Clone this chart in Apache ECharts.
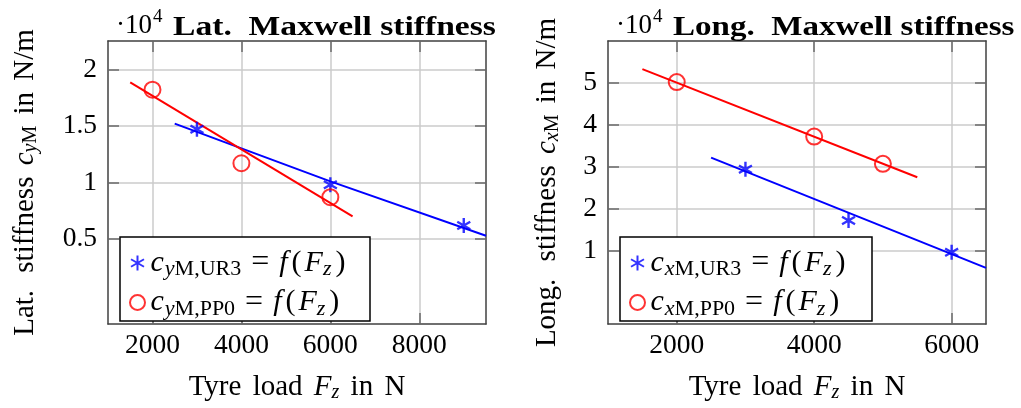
<!DOCTYPE html>
<html><head><meta charset="utf-8">
<script src="https://cdn.jsdelivr.net/npm/echarts@6/dist/echarts.min.js"></script>
<style>html,body{margin:0;padding:0;background:#fff}#c{width:1021px;height:408px}</style>
</head><body><div id="c"></div>
<script>
// ---- Data (stiffness values in units of 10^4 N/m, load in N) ----
const latUR3Load = [3000, 6000, 9000];
const latUR3Stiff = [1.47, 0.98, 0.62];
const latPP0Load = [2000, 4000, 6000];
const latPP0Stiff = [1.82, 1.17, 0.87];
const latUR3FitLoad = [2500, 6000, 9500];
const latUR3FitStiff = [1.52, 1.01, 0.53];
const latPP0FitLoad = [1500, 6500];
const latPP0FitStiff = [1.885, 0.70];

const longUR3Load = [3000, 4500, 6000];
const longUR3Stiff = [2.94, 1.72, 0.96];
const longPP0Load = [2000, 4000, 5000];
const longPP0Stiff = [5.02, 3.72, 3.07];
const longUR3FitLoad = [2500, 6500];
const longUR3FitStiff = [3.22, 0.59];
const longPP0FitLoad = [1500, 5500];
const longPP0FitStiff = [5.33, 2.75];

const latXTicks = [2000, 4000, 6000, 8000];
const latYTicks = [0.5, 1, 1.5, 2];
const longXTicks = [2000, 4000, 6000];
const longYTicks = [1, 2, 3, 4, 5];

// ---- Styling helpers ----
const FONT = 'Liberation Serif';
const FS = 29, SFS = 20, LFS = 30, LSFS = 22;
const base = {fontFamily: FONT, fontWeight: 'normal', color: '#000'};
const st = o => Object.assign({}, base, o);
const rich = {
  n: st({fontSize: FS}),
  g: st({fontSize: FS, padding: [0, 4, 0, 0]}),
  gg: st({fontSize: FS, padding: [0, 10, 0, 0]}),
  i: st({fontSize: FS, fontStyle: 'italic'}),
  si: st({fontSize: SFS, fontStyle: 'italic', padding: [12, 0, 0, 0]}),
  sn: st({fontSize: SFS, padding: [12, 0, 0, 0]}),
  // legend styles
  ln: st({fontSize: LFS}),
  lp: st({fontSize: LFS, padding: [0, 3, 0, 0]}),
  li: st({fontSize: LFS, fontStyle: 'italic'}),
  lf: st({fontSize: LFS, fontStyle: 'italic', padding: [0, 4, 0, 0]}),
  leq: st({fontSize: LFS + 2, padding: [0, 10, 0, 10]}),
  lsi: st({fontSize: LSFS, fontStyle: 'italic', padding: [13, 0, 0, 1]}),
  lsn: st({fontSize: LSFS, padding: [13, 0, 0, 0]}),
  lsz: st({fontSize: LSFS, fontStyle: 'italic', padding: [13, 4, 0, 0]})
};
const zip = (a, b) => a.map((v, k) => [v, b[k]]);
const STAR = 'path://M0,-10L0,10M-8.66,-5L8.66,5M-8.66,5L8.66,-5';

const fz = '{leq|=}{lf|f}{lp|(}{li|F}{lsz|z}{ln|)}';
const names = {
  latUR3: '{li|c}{lsi|y}{lsn|M,UR3}' + fz,
  latPP0: '{li|c}{lsi|y}{lsn|M,PP0}' + fz,
  longUR3: '{li|c}{lsi|x}{lsn|M,UR3}' + fz,
  longPP0: '{li|c}{lsi|x}{lsn|M,PP0}' + fz
};

const BOX = '#404040', TICK = '#6a6a6a', GRID = '#cbcbcb';
const TICKFS = 27.5;

function xAx(grid, min, max, ticks) {
  return [{
    gridIndex: grid, type: 'value', min: min, max: max, position: 'bottom',
    axisLine: {show: true, onZero: false, lineStyle: {color: BOX, width: 1.5}},
    axisTick: {show: true, inside: true, length: 11, customValues: ticks, lineStyle: {color: TICK, width: 1.5}},
    axisLabel: {show: true, customValues: ticks, margin: 8, color: '#000', fontFamily: FONT, fontSize: TICKFS,
      formatter: v => String(v)},
    splitLine: {show: true, lineStyle: {color: GRID, width: 1.5}},
    name: '{n|Tyre}{g| }{n|load}{g| }{i|F}{si|z}{g| }{n|in}{g| }{n|N}', nameLocation: 'middle', nameGap: 47,
    nameTextStyle: {rich: rich}
  }, {
    gridIndex: grid, type: 'value', min: min, max: max, position: 'top',
    axisLine: {show: true, onZero: false, lineStyle: {color: BOX, width: 1.5}},
    axisTick: {show: true, inside: true, length: 11, customValues: ticks, lineStyle: {color: TICK, width: 1.5}},
    axisLabel: {show: false}, splitLine: {show: false}
  }];
}
function yAx(grid, min, max, ticks, nameStr, gap) {
  return [{
    gridIndex: grid, type: 'value', min: min, max: max, position: 'left',
    axisLine: {show: true, onZero: false, lineStyle: {color: BOX, width: 1.5}},
    axisTick: {show: true, inside: true, length: 11, customValues: ticks, lineStyle: {color: TICK, width: 1.5}},
    axisLabel: {show: true, customValues: ticks, margin: 11, color: '#000', fontFamily: FONT, fontSize: TICKFS,
      formatter: v => String(v)},
    splitLine: {show: true, lineStyle: {color: GRID, width: 1.5}},
    name: nameStr, nameLocation: 'middle', nameGap: gap,
    nameTextStyle: {rich: rich}
  }, {
    gridIndex: grid, type: 'value', min: min, max: max, position: 'right',
    axisLine: {show: true, onZero: false, lineStyle: {color: BOX, width: 1.5}},
    axisTick: {show: true, inside: true, length: 11, customValues: ticks, lineStyle: {color: TICK, width: 1.5}},
    axisLabel: {show: false}, splitLine: {show: false}
  }];
}

function scatter(name, x, y, yi, type) {
  const isStar = type === 'star';
  return {
    type: 'scatter', name: name, xAxisIndex: yi, yAxisIndex: yi, z: 5,
    symbol: isStar ? STAR : 'circle', symbolKeepAspect: true,
    symbolSize: isStar ? 15 : 16,
    itemStyle: isStar ? {color: '#0000ff', borderColor: '#0000ff', borderWidth: 2.4}
                      : {color: 'rgba(255,255,255,0)', borderColor: '#ff0000', borderWidth: 2},
    data: zip(x, y)
  };
}
function fit(x, y, yi, color) {
  return {
    type: 'line', xAxisIndex: yi, yAxisIndex: yi, showSymbol: false, symbol: 'none', z: 4,
    lineStyle: {color: color, width: 2}, silent: true, data: zip(x, y)
  };
}

const legendBase = {
  orient: 'vertical', padding: 0, itemWidth: 16, itemHeight: 15, itemGap: 6,
  textStyle: {rich: rich, fontFamily: FONT, fontSize: LFS, lineHeight: 31},
  formatter: n => names[n]
};

function headText(x, y, text, size, weight, sx) {
  return {type: 'text', x: x, y: y, scaleX: sx || 1, z: 10,
    style: {text: text, fill: '#000', font: weight + ' ' + size + 'px "Liberation Serif"',
      align: 'left', verticalAlign: 'middle'}};
}

const yNameLat = '{n|Lat.}{gg| }{n|stiffness}{g| }{i|c}{si|y}{sn|M}{g| }{n|in}{g| }{n|N/m}';
const yNameLong = '{n|Long.}{gg| }{n|stiffness}{g| }{i|c}{si|x}{sn|M}{g| }{n|in}{g| }{n|N/m}';

const option = {
  animation: false,
  backgroundColor: '#fff',
  grid: [
    {left: 108, top: 41, width: 378, height: 289},
    {left: 608, top: 41, width: 378, height: 289}
  ],
  xAxis: [...xAx(0, 1000, 9500, latXTicks), ...xAx(1, 1000, 6500, longXTicks)],
  yAxis: [
    ...yAx(0, -0.25, 2.25, latYTicks, yNameLat, 67),
    ...yAx(1, -0.75, 6, longYTicks, yNameLong, 45)
  ],
  legend: [
    Object.assign({}, legendBase, {left: 129, top: 247, data: ['latUR3', 'latPP0']}),
    Object.assign({}, legendBase, {left: 629, top: 247, data: ['longUR3', 'longPP0']})
  ],
  graphic: [
    {type: 'rect', z: 3, shape: {x: 120, y: 237, width: 250, height: 84}, style: {fill: '#fff', stroke: '#000', lineWidth: 1.5}},
    {type: 'rect', z: 3, shape: {x: 620, y: 237, width: 252, height: 84}, style: {fill: '#fff', stroke: '#000', lineWidth: 1.5}},
    headText(116, 26, '·10', 27, 'normal'),
    headText(153, 17, '4', 19, 'normal'),
    headText(173, 28, 'Lat.  Maxwell stiffness', 28, 'bold', 1.2),
    headText(616, 26, '·10', 27, 'normal'),
    headText(653, 17, '4', 19, 'normal'),
    headText(673, 28, 'Long.  Maxwell stiffness', 28, 'bold', 1.18)
  ],
  series: [
    fit(latUR3FitLoad, latUR3FitStiff, 0, '#0000ff'),
    fit(latPP0FitLoad, latPP0FitStiff, 0, '#ff0000'),
    scatter('latUR3', latUR3Load, latUR3Stiff, 0, 'star'),
    scatter('latPP0', latPP0Load, latPP0Stiff, 0, 'circle'),
    fit(longUR3FitLoad, longUR3FitStiff, 2, '#0000ff'),
    fit(longPP0FitLoad, longPP0FitStiff, 2, '#ff0000'),
    scatter('longUR3', longUR3Load, longUR3Stiff, 2, 'star'),
    scatter('longPP0', longPP0Load, longPP0Stiff, 2, 'circle')
  ]
};
const chart = echarts.init(document.getElementById('c'), null, {renderer: 'canvas'});
chart.setOption(option);
</script>
</body></html>
